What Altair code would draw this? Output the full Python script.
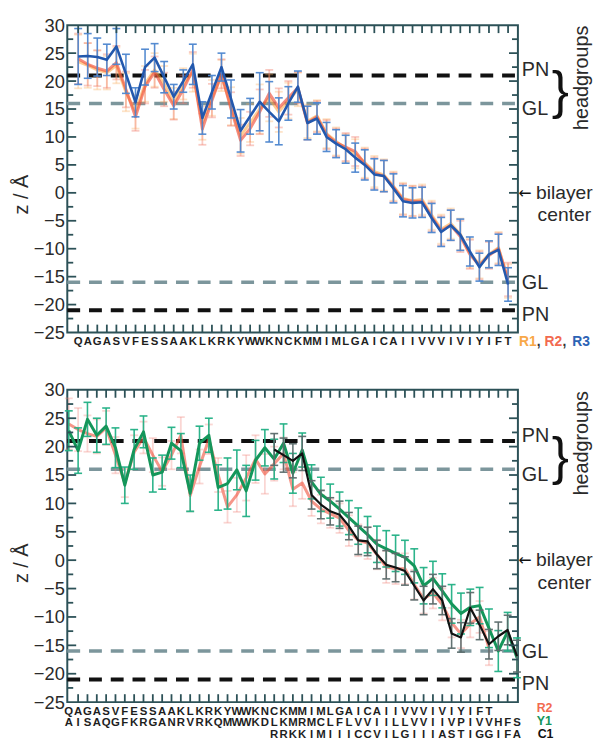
import altair as alt
import pandas as pd

# ---------------- data ----------------
seq_top = list("QAGASVFESSAAKLKRKYWWKNCKMMIMLGAICAIIVVVIVIYIFT")

r1_z = [23.5, 22.8, 22.0, 21.5, 22.8, 18.0, 14.5, 19.5, 22.0, 19.5,
        16.0, 19.5, 21.5, 12.5, 17.0, 21.0, 15.5, 10.2, 12.5, 15.0,
        17.0, 14.5, 16.5, 18.5, 12.8, 13.8, 10.6, 9.2, 8.0, 7.0,
        5.4, 3.8, 3.2, 1.2, -1.0, -1.4, -1.2, -4.0, -6.5, -5.5,
        -7.4, -10.8, -12.8, -11.0, -9.8, -15.8]
r1_err = [4.8, 4.0, 3.5, 3.0, 3.2, 3.4, 3.0, 3.2, 3.0, 3.2,
          2.8, 2.8, 3.4, 3.0, 3.2, 2.8, 3.4, 3.2, 3.4, 4.4,
          4.2, 3.6, 3.2, 3.0, 3.0, 2.8, 2.6, 2.5, 2.5, 2.6,
          2.7, 2.8, 2.8, 2.6, 2.8, 2.7, 2.7, 2.6, 2.6, 2.7,
          2.8, 2.6, 2.5, 2.4, 2.8, 3.0]

r2_z = [24.0, 23.0, 22.3, 21.8, 23.3, 18.5, 13.6, 19.0, 21.6, 18.5,
        15.6, 18.5, 22.0, 11.4, 16.5, 21.3, 15.0, 9.4, 11.5, 14.5,
        17.8, 15.2, 17.0, 18.8, 12.5, 13.6, 10.4, 9.0, 8.2, 7.4,
        5.2, 3.5, 3.0, 1.0, -1.2, -1.5, -1.5, -4.3, -6.8, -5.8,
        -7.8, -11.0, -13.0, -11.2, -10.0, -15.5]
r2_err = [4.5, 3.8, 3.2, 3.0, 3.0, 3.2, 2.5, 3.0, 2.8, 3.0,
          2.5, 2.5, 3.2, 2.8, 3.0, 2.6, 3.0, 2.8, 3.0, 4.0,
          4.2, 3.5, 3.0, 2.8, 3.0, 2.8, 2.6, 2.5, 2.5, 2.6,
          2.7, 2.8, 2.8, 2.6, 2.8, 2.7, 2.7, 2.6, 2.6, 2.7,
          2.8, 2.6, 2.5, 2.4, 2.8, 3.0]

r3_z = [24.4, 24.5, 24.3, 23.8, 26.2, 21.3, 16.2, 22.5, 24.2, 20.7,
        17.2, 20.0, 23.0, 13.4, 18.0, 22.5, 16.8, 11.1, 13.7, 16.3,
        14.5, 12.8, 16.0, 19.0, 12.5, 13.3, 10.0, 8.8, 7.8, 6.3,
        5.0, 3.3, 3.0, 0.8, -1.5, -1.8, -1.7, -4.5, -7.0, -5.8,
        -7.5, -10.5, -13.3, -11.0, -10.2, -16.4]
r3_err = [5.0, 4.0, 3.4, 2.8, 3.2, 3.5, 2.6, 3.2, 2.5, 2.8,
          2.2, 2.0, 3.6, 2.9, 3.0, 2.5, 3.4, 3.8, 3.2, 5.2,
          5.4, 4.2, 3.0, 2.8, 3.0, 2.8, 2.6, 2.5, 2.5, 2.6,
          2.7, 2.8, 2.8, 2.6, 2.8, 2.7, 2.7, 2.6, 2.6, 2.7,
          2.8, 2.6, 2.5, 2.4, 2.8, 3.0]

seq_y1 = list("AISAQGFKRGANRVRKQMWWKDLKMRMCLFLVVIILLVVIIVPIVVHFS")
y1_z = [22.8, 19.3, 24.8, 22.0, 23.6, 19.8, 13.2, 19.5, 22.6, 15.0,
        15.5, 20.6, 19.3, 11.8, 20.6, 22.0, 12.8, 13.5, 15.9, 12.2,
        17.6, 19.8, 17.8, 20.6, 15.3, 19.4, 13.8, 11.6, 10.4, 9.0,
        7.5, 6.0, 4.5, 2.8, 2.0, 1.2, 0.5, -1.0, -4.5, -3.2,
        -5.4, -7.7, -9.4, -8.3, -8.0, -12.0, -16.0, -12.6, -17.2]
y1_err = [3.5, 4.0, 3.0, 3.0, 3.2, 3.5, 3.2, 3.5, 2.8, 3.0,
          3.0, 2.8, 3.0, 3.2, 3.0, 3.0, 4.0, 4.5, 3.5, 4.5,
          3.5, 3.2, 3.5, 3.4, 3.5, 3.0, 3.0, 3.0, 3.0, 3.0,
          3.0, 3.2, 3.2, 3.2, 3.2, 3.2, 3.0, 3.0, 3.2, 3.0,
          3.0, 3.4, 3.6, 3.2, 3.2, 3.4, 3.6, 3.4, 3.5]

seq_c1 = list("RRKKIMIIICCVILGIIIASTIGGIFA")
c1_start = 23
c1_z = [19.5, 18.5, 17.5, 18.8, 11.5, 9.8, 8.6, 8.0, 6.0, 3.5,
        3.3, 1.0, -0.8, -1.3, -1.9, -4.5, -7.1, -5.1, -7.1, -12.9,
        -13.6, -8.4, -11.4, -14.8, -13.4, -12.3, -16.9]
c1_err = [2.8, 3.0, 3.0, 3.0, 2.5, 2.5, 2.4, 2.4, 2.4, 2.5,
          2.5, 2.5, 2.5, 2.5, 2.5, 2.5, 2.5, 2.6, 2.5, 2.6,
          2.6, 2.7, 2.6, 2.6, 2.5, 2.6, 2.8]

pn_levels = [21, -21]
gl_levels = [16, -16]
y_label_values = list(range(-25, 31, 5))

# ---------------- style / layout ----------------
FONT = "Liberation Sans"
W = 456
FRAME = "#2c5157"
TXT = "#2a2a2a"
ROW0 = 10      # first letter row below plot
ROWSTEP = 11.5


def sdf(pos, z, err):
    return pd.DataFrame({"pos": pos, "z": z,
                         "lo": [a - b for a, b in zip(z, err)],
                         "hi": [a + b for a, b in zip(z, err)]})


def make_panel(H, xdom, series, tick_pos, rows, legend, title_y):
    xs = alt.Scale(domain=xdom, nice=False, zero=False)
    ys = alt.Scale(domain=[-25, 30], nice=False, zero=False)
    yaxis = alt.Axis(values=y_label_values, ticks=False, domain=False, grid=False,
                     labelFont=FONT, labelFontSize=18.5, labelColor=TXT, labelPadding=3,
                     labelFlush=False, labelOverlap=False,
                     title="z / Å", titleFont=FONT, titleFontSize=20,
                     titleFontWeight="normal", titleColor=TXT, titlePadding=2,
                     titleY=title_y)

    def X(f="pos"):
        return alt.X(f"{f}:Q", scale=xs, axis=None)

    def Y(f):
        return alt.Y(f"{f}:Q", scale=ys, axis=yaxis)

    layers = []
    layers.append(alt.Chart(pd.DataFrame({"z": gl_levels})).mark_rule(
        color="#7c969c", strokeWidth=3.5, strokeDash=[13, 9]).encode(
        y=Y("z"), x=alt.value(0), x2=alt.value(W)))
    layers.append(alt.Chart(pd.DataFrame({"z": pn_levels})).mark_rule(
        color="#111111", strokeWidth=4, strokeDash=[13, 9]).encode(
        y=Y("z"), x=alt.value(0), x2=alt.value(W)))

    for d, lc, ec, lw, ew, lop, eop in series:
        base = alt.Chart(d)
        layers.append(base.mark_rule(color=ec, strokeWidth=ew, opacity=eop).encode(
            x=X(), y=Y("lo"), y2="hi"))
        for f in ("lo", "hi"):
            layers.append(base.mark_tick(color=ec, orient="horizontal", size=8,
                                         thickness=ew, opacity=eop).encode(x=X(), y=Y(f)))
        layers.append(base.mark_line(color=lc, strokeWidth=lw, opacity=lop,
                                     strokeJoin="round").encode(x=X(), y=Y("z")))

    # inward ticks
    tdf = pd.DataFrame({"pos": tick_pos})
    layers.append(alt.Chart(tdf).mark_rule(color=FRAME, strokeWidth=1.8).encode(
        x=X(), y=alt.value(0), y2=alt.value(8)))
    layers.append(alt.Chart(tdf).mark_rule(color=FRAME, strokeWidth=1.8).encode(
        x=X(), y=alt.value(H), y2=alt.value(H - 8)))
    major = pd.DataFrame({"v": [v for v in y_label_values if -25 < v < 30]})
    minor = pd.DataFrame({"v": [v + 2.5 for v in y_label_values if v < 30]})
    for df_, ln in ((major, 9), (minor, 6)):
        layers.append(alt.Chart(df_).mark_rule(color=FRAME, strokeWidth=1.8).encode(
            y=Y("v"), x=alt.value(0), x2=alt.value(ln)))
        layers.append(alt.Chart(df_).mark_rule(color=FRAME, strokeWidth=1.8).encode(
            y=Y("v"), x=alt.value(W), x2=alt.value(W - ln)))

    # residue letters
    for k, (pos, letters) in enumerate(rows):
        ldf = pd.DataFrame({"pos": pos, "aa": letters})
        layers.append(alt.Chart(ldf).mark_text(font=FONT, fontWeight="bold", fontSize=11.5,
                                               color="#1e1e1e", baseline="middle").encode(
            x=X(), y=alt.value(H + ROW0 + ROWSTEP * k), text="aa:N"))

    # legend texts
    for txt, col, xoff, yoff, fs in legend:
        layers.append(alt.Chart(pd.DataFrame({"t": [txt]})).mark_text(
            font=FONT, fontWeight="bold", fontSize=fs, color=col, align="left",
            baseline="middle").encode(x=alt.value(W + xoff), y=alt.value(H + yoff),
                                      text="t:N"))

    # right-side annotations
    ann = pd.DataFrame({"z": [21.9, 15.0, -16.1, -21.8], "t": ["PN", "GL", "GL", "PN"]})
    layers.append(alt.Chart(ann).mark_text(font=FONT, fontSize=20, color=TXT, align="left",
                                           baseline="middle").encode(
        x=alt.value(W + 4), y=Y("z"), text="t:N"))
    layers.append(alt.Chart(pd.DataFrame({"z": [18.0], "t": ["}"]})).mark_text(
        font=FONT, fontSize=52, color="#111", align="center",
        baseline="middle").encode(x=alt.value(W + 43), y=Y("z"), text="t:N"))
    layers.append(alt.Chart(pd.DataFrame({"z": [20.6], "t": ["headgroups"]})).mark_text(
        font=FONT, fontSize=20, color=TXT, align="center", baseline="middle",
        angle=270).encode(x=alt.value(W + 65), y=Y("z"), text="t:N"))
    layers.append(alt.Chart(pd.DataFrame({"z": [0], "t": ["←"]})).mark_text(
        font="DejaVu Sans", fontSize=16, color="#111", align="center",
        baseline="middle").encode(x=alt.value(W + 7), y=Y("z"), text="t:N"))
    layers.append(alt.Chart(pd.DataFrame({"z": [0], "t": ["bilayer\ncenter"]})).mark_text(
        font=FONT, fontSize=19.5, color=TXT, align="center", baseline="middle",
        lineBreak="\n", lineHeight=23).encode(x=alt.value(W + 47), y=Y("z"), text="t:N"))

    return alt.layer(*layers).properties(width=W, height=H)


# ---------- top panel ----------
pos_top = list(range(1, 47))
top_series = [
    (sdf(pos_top, r1_z, r1_err), "#f9a23c", "#f9b060", 3, 1.8, 0.55, 0.35),
    (sdf(pos_top, r2_z, r2_err), "#f0503a", "#f07a6a", 3, 1.8, 0.65, 0.4),
    (sdf(pos_top, r3_z, r3_err), "#2358ad", "#4d86cf", 2.6, 1.6, 1.0, 0.95),
]
top = make_panel(311, [-0.14, 47.03], top_series, pos_top,
                 [(pos_top, seq_top)],
                 [("R1", "#f8a848", 1, ROW0, 14), (",", "#333", 19, ROW0, 14),
                  ("R2", "#f26a50", 27, ROW0, 14), (",", "#333", 45, ROW0, 14),
                  ("R3", "#2c63b5", 55, ROW0, 14)],
                 title_y=171)

# ---------- bottom panel ----------
pos_y1 = list(range(1, 50))
pos_c1 = list(range(c1_start, c1_start + len(c1_z)))
bot_series = [
    (sdf(pos_top, r2_z, r2_err), "#f0503a", "#f08a80", 3, 1.8, 0.6, 0.35),
    (sdf(pos_y1, y1_z, y1_err), "#14965a", "#22b085", 3, 1.6, 1.0, 0.95),
    (sdf(pos_c1, c1_z, c1_err), "#111111", "#5b6b6b", 2.2, 1.6, 1.0, 0.95),
]
bottom = make_panel(316, [0.84, 49.1], bot_series, list(range(2, 49)),
                    [(pos_top, seq_top), (pos_y1, seq_y1), (pos_c1, seq_c1)],
                    [("R2", "#f26a50", 19, 6, 12.5), ("Y1", "#14965a", 19, 19, 12.5),
                     ("C1", "#111", 20, 32, 12.5)],
                    title_y=175)

chart = alt.vconcat(top, bottom, spacing=58, bounds="flush").properties(
    padding={"left": 2, "top": 3, "right": 0, "bottom": 0}
).configure_view(stroke=FRAME, strokeWidth=2)

chart.save("out.html", embed_options={"renderer": "svg", "actions": False})
